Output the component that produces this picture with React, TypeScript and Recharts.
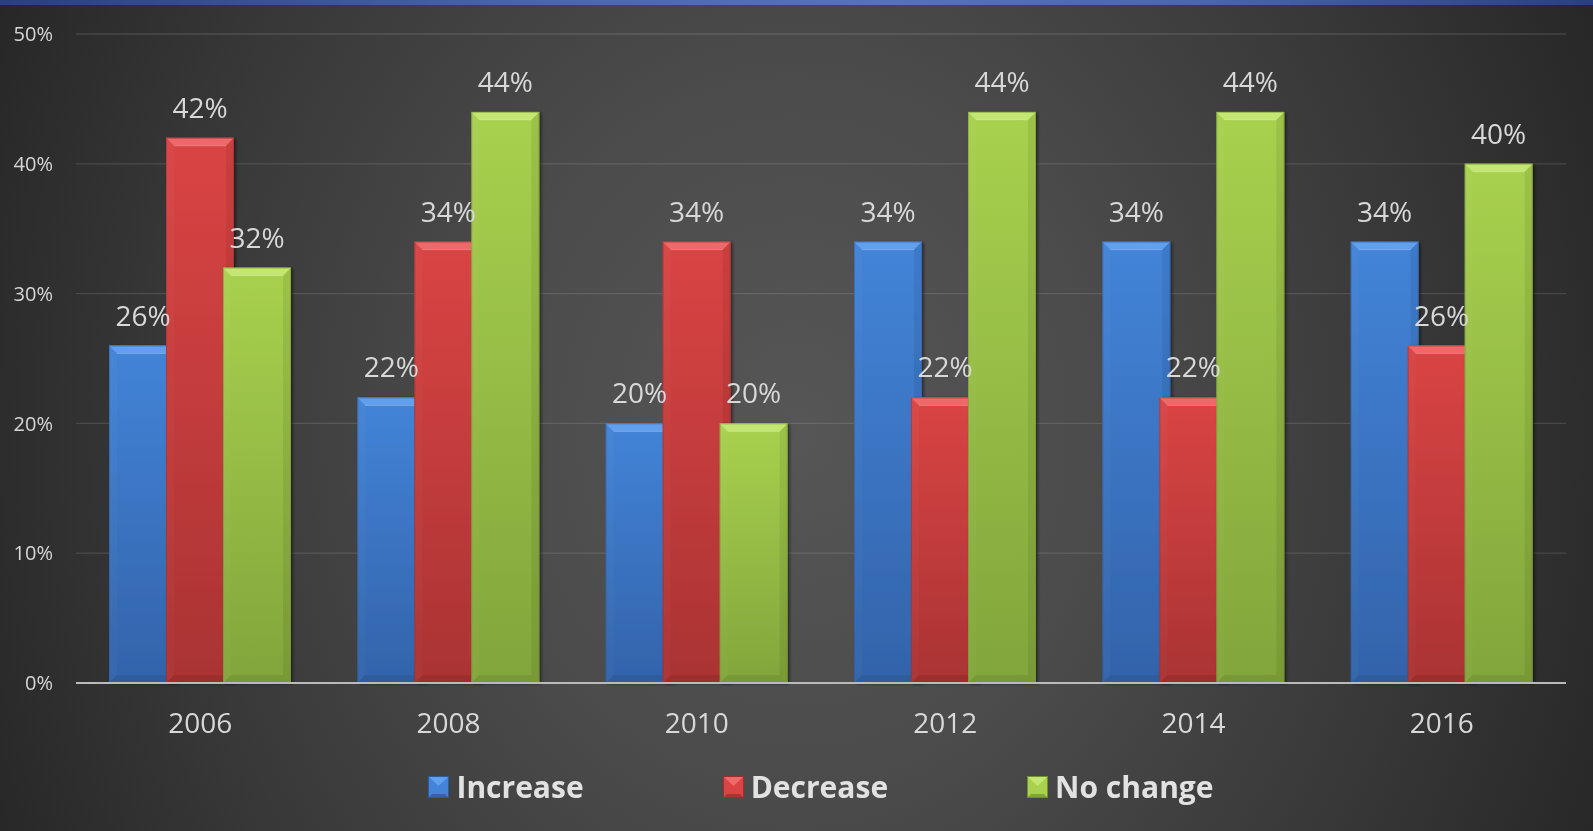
import React from 'react';
import { BarChart, Bar, XAxis, YAxis, CartesianGrid, LabelList, Legend } from 'recharts';

const years = ['2006', '2008', '2010', '2012', '2014', '2016'];
const increase = [26, 22, 20, 34, 34, 34];
const decrease = [42, 34, 34, 22, 22, 26];
const noChange = [32, 44, 20, 44, 44, 40];
const yTicks = [0, 10, 20, 30, 40, 50];

const seriesNames = ['Increase', 'Decrease', 'No change'];

const data = years.map((year, i) => ({
  year,
  increase: increase[i],
  decrease: decrease[i],
  noChange: noChange[i],
}));

const palette: Record<string, { top: string; bottom: string; bevel: string; edge: string }> = {
  increase: { top: '#4384d8', bottom: '#3263aa', bevel: '#62a0ee', edge: '#2d5a9c' },
  decrease: { top: '#da4444', bottom: '#aa3333', bevel: '#ee6a6a', edge: '#9c2e2e' },
  noChange: { top: '#a8d14e', bottom: '#82a53b', bevel: '#c4e672', edge: '#718f33' },
};

const keys = ['increase', 'decrease', 'noChange'];

const FONT = '"Open Sans", "Noto Sans", sans-serif';

const makeShape = (key: string) => (props: any) => {
  const { x, y, width, height } = props;
  if (!height || height <= 0) return <g />;
  const c = palette[key];
  const b = Math.min(8, width / 4, height / 2);
  const r = x + width;
  const btm = y + height;
  return (
    <g filter="url(#barShadow)">
      <rect x={x} y={y} width={width} height={height} fill={`url(#grad-${key})`} />
      <polygon points={`${x},${y} ${r},${y} ${r - b},${y + b} ${x + b},${y + b}`} fill={c.bevel} />
      <polygon points={`${x},${y} ${x + b},${y + b} ${x + b},${btm - b} ${x},${btm}`} fill="rgba(255,255,255,0.025)" />
      <polygon points={`${r},${y} ${r - b},${y + b} ${r - b},${btm - b} ${r},${btm}`} fill="rgba(0,0,0,0.07)" />
      <polygon points={`${x},${btm} ${x + b},${btm - b} ${r - b},${btm - b} ${r},${btm}`} fill="rgba(0,0,0,0.08)" />
      <line x1={x + b} y1={y + b} x2={r - b} y2={y + b} stroke="rgba(255,255,255,0.2)" strokeWidth={1} />
      <rect x={x + 0.5} y={y + 0.5} width={width - 1} height={height - 1} fill="none" stroke={c.edge} strokeOpacity={0.5} strokeWidth={1} />
    </g>
  );
};

const LegendIcon = ({ k }: { k: string }) => {
  const c = palette[k];
  return (
    <svg width={21} height={22} style={{ display: 'block' }}>
      <rect x={0} y={0} width={21} height={22} fill={c.top} />
      <polygon points="0,0 21,0 10.5,10" fill={c.bevel} />
      <polygon points="0,22 21,22 17,18 4,18" fill={c.bottom} />
      <rect x={0.5} y={0.5} width={20} height={21} fill="none" stroke={c.edge} strokeWidth={1} />
    </svg>
  );
};

const renderLegend = () => (
  <div
    style={{
      display: 'flex',
      justifyContent: 'center',
      alignItems: 'center',
      gap: 139,
      height: 48,
      fontFamily: FONT,
    }}
  >
    {keys.map((k, i) => (
      <div key={k} style={{ display: 'flex', alignItems: 'center', gap: 7 }}>
        <LegendIcon k={k} />
        <span style={{ color: '#e2e2e2', fontWeight: 700, fontSize: 30, lineHeight: '48px' }}>{seriesNames[i]}</span>
      </div>
    ))}
  </div>
);

export default function App() {
  return (
    <div
      style={{
        position: 'fixed',
        left: 0,
        top: 0,
        width: 1593,
        height: 831,
        overflow: 'hidden',
        background:
          'radial-gradient(ellipse 56% 125% at 50% 52%, #565656 0%, #4b4b4b 35%, #383838 70%, #262626 100%)',
      }}
    >
      <div
        style={{
          position: 'absolute',
          left: 0,
          top: 0,
          width: 1593,
          height: 5,
          background: 'linear-gradient(to right, #2b3f7c 0%, #4a66ad 35%, #5572bb 55%, #4a66ad 75%, #2b3f7c 100%)',
        }}
      />
      <div style={{ position: 'absolute', left: 0, top: 0 }}>
        <BarChart
          width={1593}
          height={831}
          data={data}
          margin={{ top: 34, right: 27, left: 16, bottom: 20 }}
          barSize={68}
          barGap={-11}
        >
          <defs>
            {keys.map((k) => (
              <linearGradient key={k} id={`grad-${k}`} x1="0" y1="0" x2="0" y2="1">
                <stop offset="0%" stopColor={palette[k].top} />
                <stop offset="100%" stopColor={palette[k].bottom} />
              </linearGradient>
            ))}
            <filter id="barShadow" x="-20%" y="-5%" width="140%" height="110%">
              <feDropShadow dx="2" dy="1" stdDeviation="1.5" floodColor="#000" floodOpacity="0.45" />
            </filter>
          </defs>
          <CartesianGrid vertical={false} stroke="rgba(255,255,255,0.12)" strokeWidth={1.3} />
          <XAxis
            dataKey="year"
            height={80}
            axisLine={{ stroke: '#bababa', strokeWidth: 2 }}
            tickLine={false}
            tickSize={0}
            tickMargin={30}
            tick={{ fill: '#d8d8d8', fontSize: 28, fontFamily: FONT }}
          />
          <YAxis
            width={60}
            domain={[0, 50]}
            ticks={yTicks}
            axisLine={false}
            tickLine={false}
            tickSize={0}
            tickMargin={23}
            tickFormatter={(v: number) => `${v}%`}
            tick={{ fill: '#d6d6d6', fontSize: 20, fontFamily: FONT }}
          />
          <Legend
            content={renderLegend}
            verticalAlign="bottom"
            wrapperStyle={{ left: 76, width: 1490, height: 48, bottom: 20 }}
          />
          {keys.map((k, i) => (
            <Bar key={k} dataKey={k} name={seriesNames[i]} fill={palette[k].top} shape={makeShape(k)} isAnimationActive={false}>
              <LabelList
                dataKey={k}
                position="top"
                offset={20}
                formatter={(v: any) => `${v}%`}
                style={{ fill: '#d8d8d8', fontSize: 28, fontFamily: FONT }}
              />
            </Bar>
          ))}
        </BarChart>
      </div>
    </div>
  );
}
